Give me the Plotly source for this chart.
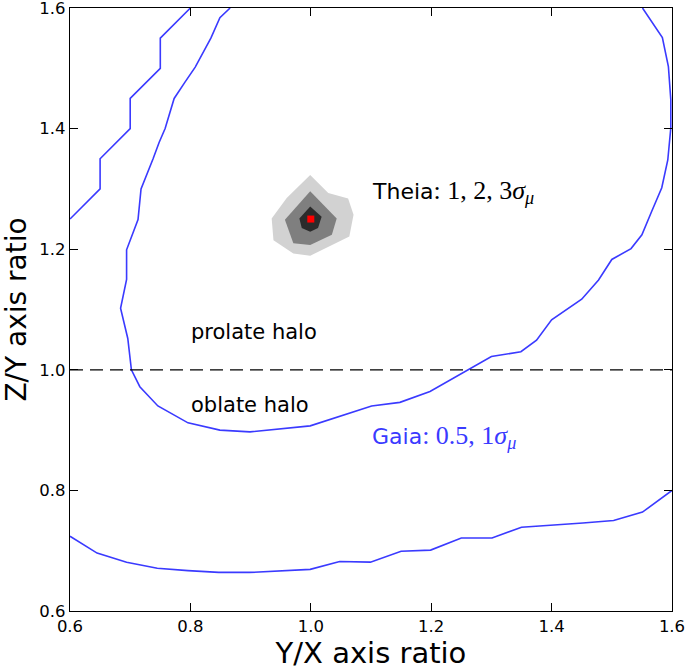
import plotly.graph_objects as go

# Gaia contours (blue lines)
gaia_outer_left_x = [0.60, 0.65, 0.65, 0.70, 0.70, 0.75, 0.75, 0.80]
gaia_outer_left_y = [1.25, 1.30, 1.35, 1.40, 1.45, 1.50, 1.55, 1.60]

gaia_inner_x = [0.866, 0.849, 0.834, 0.808, 0.791, 0.773, 0.758, 0.748, 0.738, 0.718, 0.713,
                0.694, 0.694, 0.684, 0.696, 0.702, 0.716, 0.746, 0.796, 0.849, 0.899, 0.999,
                1.101, 1.148, 1.198, 1.248, 1.300, 1.349, 1.375, 1.400, 1.450, 1.478, 1.500,
                1.532, 1.550, 1.566, 1.583, 1.593, 1.598, 1.598, 1.594, 1.584, 1.551]
gaia_inner_y = [1.600, 1.584, 1.550, 1.502, 1.477, 1.450, 1.400, 1.377, 1.350, 1.300, 1.249,
                1.199, 1.150, 1.102, 1.052, 1.000, 0.972, 0.940, 0.912, 0.900, 0.897, 0.907,
                0.940, 0.946, 0.964, 0.993, 1.022, 1.030, 1.049, 1.083, 1.117, 1.149, 1.183,
                1.201, 1.224, 1.262, 1.302, 1.348, 1.401, 1.448, 1.503, 1.551, 1.600]

gaia_bottom_x = [0.600, 0.645, 0.694, 0.745, 0.796, 0.847, 0.898, 0.948, 0.999, 1.048, 1.099,
                 1.150, 1.199, 1.250, 1.301, 1.350, 1.401, 1.452, 1.503, 1.551, 1.600]
gaia_bottom_y = [0.724, 0.696, 0.681, 0.671, 0.667, 0.664, 0.664, 0.666, 0.669, 0.682, 0.681,
                 0.699, 0.701, 0.721, 0.721, 0.739, 0.742, 0.746, 0.750, 0.764, 0.800]

# Theia filled contours (3, 2, 1 sigma)
theia3_x = [0.999, 1.029, 1.062, 1.071, 1.064, 1.035, 0.999, 0.971, 0.938, 0.935, 0.960, 0.999]
theia3_y = [1.323, 1.293, 1.284, 1.257, 1.221, 1.207, 1.189, 1.193, 1.215, 1.251, 1.285, 1.323]
theia2_x = [0.999, 1.043, 1.035, 0.999, 0.971, 0.957, 0.999]
theia2_y = [1.296, 1.251, 1.224, 1.207, 1.210, 1.249, 1.296]
theia1_x = [0.999, 1.018, 1.012, 0.999, 0.985, 0.981, 0.999]
theia1_y = [1.271, 1.254, 1.235, 1.229, 1.235, 1.251, 1.271]
true_x = [1.0]
true_y = [1.25]

ticks = [0.6, 0.8, 1.0, 1.2, 1.4, 1.6]
tick_labels = ["0.6", "0.8", "1.0", "1.2", "1.4", "1.6"]

blue = "#3a3aff"
fig = go.Figure()

for xs, ys, col in [(theia3_x, theia3_y, "#d2d2d2"), (theia2_x, theia2_y, "#7f7f7f"),
                    (theia1_x, theia1_y, "#2b2b2b")]:
    fig.add_trace(go.Scatter(x=xs, y=ys, mode="lines", fill="toself", fillcolor=col,
                             line=dict(width=0, color=col), hoverinfo="skip"))

fig.add_trace(go.Scatter(x=true_x, y=true_y, mode="markers",
                         marker=dict(symbol="square", size=7, color="red", line=dict(width=0))))

for xs, ys in [(gaia_outer_left_x, gaia_outer_left_y), (gaia_inner_x, gaia_inner_y),
               (gaia_bottom_x, gaia_bottom_y)]:
    fig.add_trace(go.Scatter(x=xs, y=ys, mode="lines", line=dict(color=blue, width=1.6)))

fig.add_trace(go.Scatter(x=[0.6, 1.6], y=[1.0, 1.0], mode="lines",
                         line=dict(color="black", width=1.2, dash="13px,7px")))

serif = "Liberation Serif"
math_style = "font-family:" + serif + ";font-size:26px"
ann = [
    dict(x=1.098, y=1.295, text="Theia<span style='" + math_style + "'>: 1, 2, 3<i>σ</i><sub><i>μ</i></sub></span>",
         font=dict(size=22, color="black")),
    dict(x=1.098, y=0.889, text="Gaia<span style='" + math_style + "'>: 0.5, 1<i>σ</i><sub><i>μ</i></sub></span>",
         font=dict(size=22, color=blue)),
    dict(x=0.797, y=1.063, text="prolate halo", font=dict(size=21, color="black")),
    dict(x=0.797, y=0.942, text="oblate halo", font=dict(size=21, color="black")),
]
for a in ann:
    fig.add_annotation(xref="x", yref="y", xanchor="left", yanchor="middle", showarrow=False,
                       **a)

axis_common = dict(range=[0.6, 1.6], tickvals=ticks, ticktext=tick_labels, ticks="inside",
                   ticklen=8, tickwidth=1, tickcolor="black", showline=True, linecolor="black",
                   linewidth=1.2, mirror="ticks", showgrid=False, zeroline=False,
                   automargin=False, ticklabeloverflow="allow",
                   tickfont=dict(size=16.5, color="black"))
fig.update_xaxes(**axis_common, title=dict(text="Y/X axis ratio", font=dict(size=29, color="black"), standoff=6))
fig.update_yaxes(**axis_common, title=dict(text="Z/Y axis ratio", font=dict(size=28, color="black"), standoff=6))

fig.update_layout(width=685, height=671, margin=dict(l=70, r=13, t=8, b=60),
                  plot_bgcolor="white", paper_bgcolor="white", showlegend=False,
                  font=dict(family="DejaVu Sans", color="black"))

fig.write_html("out.html", config={"displayModeBar": False},
               post_script="document.body.style.margin='0';document.body.style.overflow='hidden';")
